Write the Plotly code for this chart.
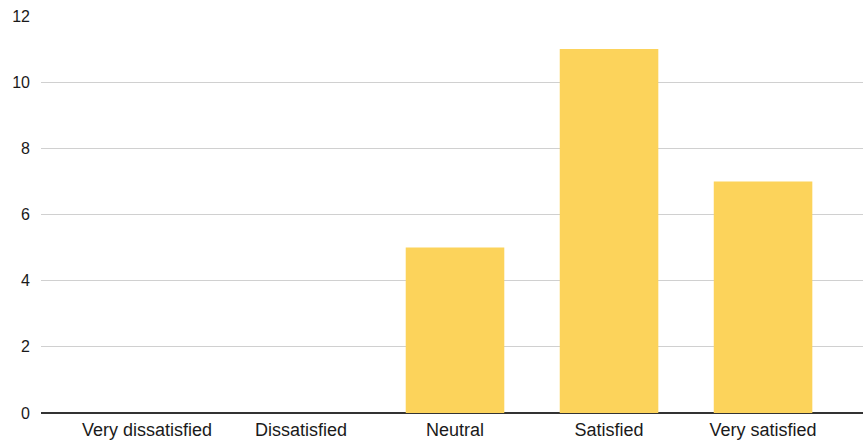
import plotly.graph_objects as go

# Survey responses per satisfaction level
categories = ["Very dissatisfied", "Dissatisfied", "Neutral", "Satisfied", "Very satisfied"]
counts = [0, 0, 5, 11, 7]
y_ticks = [0, 2, 4, 6, 8, 10, 12]

fig = go.Figure(
    go.Bar(
        x=categories,
        y=counts,
        marker=dict(color="#FCD35B", line=dict(width=0)),
        width=0.64,
    )
)

fig.update_layout(
    width=863,
    height=447,
    margin=dict(l=41, r=0, t=16, b=34),
    paper_bgcolor="white",
    plot_bgcolor="white",
    showlegend=False,
    font=dict(family="Liberation Sans, Arial, sans-serif", size=17, color="#1a1a1a"),
)

fig.update_xaxes(
    range=[-0.688, 4.649],
    showgrid=False,
    showline=False,
    ticks="",
    tickfont=dict(size=18, color="#1a1a1a"),
    ticklabelstandoff=4,
)

fig.update_yaxes(
    range=[0, 12],
    tickvals=y_ticks,
    showgrid=True,
    gridcolor="#d0d0d0",
    gridwidth=1,
    zeroline=True,
    zerolinecolor="#333333",
    zerolinewidth=1.5,
    showline=False,
    ticks="",
    tickfont=dict(size=16, color="#1a1a1a"),
    ticklabelstandoff=10,
)

fig.write_html("out.html")
